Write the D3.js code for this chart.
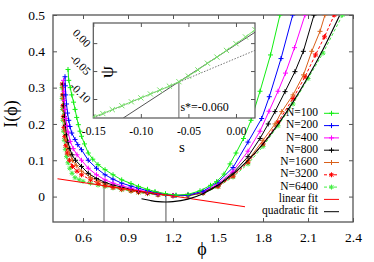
<!DOCTYPE html>
<html><head><meta charset="utf-8">
<script src="https://cdn.jsdelivr.net/npm/d3@7/dist/d3.min.js"></script>
<style>
body{margin:0;background:#fff}
svg{display:block}
text{font-family:"Liberation Serif","Times New Roman",serif;fill:#000}
</style>
</head><body>
<svg id="c" width="374" height="262"></svg>
<script>
// ---------------- DATA ----------------
const seriesNames = ["N=100","N=200","N=400","N=800","N=1600","N=3200","N=6400"];
const seriesColors = ["#11ee11","#0000ff","#ff00ff","#000000","#d9601a","#ff0000","#44ee44"];
const seriesDash = [null,null,null,null,null,"3,2","3,2"];
const seriesMarker = ["plus","plus","plus","plus","plus","star","star"];

const phi100 = [0.5,0.505,0.515,0.525,0.537,0.547,0.558,0.569,0.58,0.59,0.61,0.635,0.665,0.7,0.747,0.8,0.858,0.92,0.97,1.03,1.08,1.15,1.22,1.3,1.38,1.45,1.49,1.54,1.58,1.62,1.67,1.72,1.78,1.85,1.913];
const I100   = [0.35,0.32,0.3,0.28,0.26,0.24,0.218,0.198,0.18,0.166,0.145,0.12,0.103,0.088,0.074,0.06,0.046,0.036,0.028,0.02,0.014,0.008,0.004,0.006,0.016,0.031,0.041,0.062,0.09,0.12,0.16,0.21,0.29,0.39,0.5];

const phi200 = [0.48,0.482,0.485,0.49,0.497,0.505,0.513,0.525,0.547,0.565,0.59,0.635,0.69,0.747,0.8,0.858,0.92,0.97,1.03,1.08,1.15,1.22,1.3,1.4,1.5,1.6,1.7,1.791,1.842,1.92,1.998];
const I200   = [0.33,0.305,0.28,0.255,0.23,0.21,0.193,0.175,0.157,0.143,0.129,0.1,0.078,0.06,0.048,0.037,0.029,0.023,0.016,0.011,0.006,0.003,0.004,0.015,0.04,0.08,0.15,0.215,0.275,0.38,0.5];

const phi400 = [0.47,0.472,0.475,0.48,0.486,0.493,0.5,0.515,0.535,0.56,0.59,0.635,0.69,0.747,0.8,0.858,0.92,0.97,1.03,1.1,1.2,1.3,1.4,1.5,1.6,1.7,1.78,1.84,1.9,1.95,2.01,2.08];
const I400   = [0.32,0.29,0.265,0.24,0.215,0.195,0.178,0.152,0.132,0.115,0.1,0.078,0.06,0.046,0.037,0.03,0.023,0.018,0.013,0.008,0.003,0.004,0.013,0.035,0.07,0.125,0.18,0.235,0.29,0.34,0.41,0.5];

const phi800 = [0.468,0.47,0.473,0.477,0.483,0.49,0.5,0.512,0.527,0.55,0.59,0.635,0.69,0.747,0.8,0.858,0.92,0.97,1.03,1.1,1.2,1.3,1.4,1.5,1.6,1.7,1.78,1.835,1.88,1.947,2.013,2.069,2.14];
const I800   = [0.31,0.28,0.25,0.22,0.195,0.17,0.15,0.132,0.115,0.1,0.083,0.064,0.05,0.039,0.032,0.026,0.02,0.015,0.011,0.007,0.003,0.003,0.012,0.032,0.065,0.11,0.16,0.2,0.234,0.289,0.344,0.4,0.5];

const phi1600 = [0.465,0.467,0.47,0.474,0.48,0.488,0.498,0.512,0.53,0.555,0.59,0.65,0.7,0.747,0.8,0.858,0.92,0.97,1.03,1.1,1.2,1.3,1.4,1.5,1.6,1.7,1.8,1.88,1.925,2.0,2.07,2.125,2.18,2.213];
const I1600   = [0.3,0.27,0.24,0.21,0.18,0.155,0.135,0.117,0.1,0.086,0.07,0.053,0.043,0.035,0.028,0.022,0.017,0.013,0.01,0.006,0.003,0.003,0.011,0.03,0.06,0.1,0.155,0.2,0.234,0.28,0.335,0.4,0.455,0.5];

const phi3200 = [0.462,0.464,0.466,0.469,0.473,0.478,0.485,0.495,0.51,0.53,0.56,0.59,0.65,0.7,0.747,0.8,0.858,0.92,0.97,1.03,1.1,1.2,1.3,1.4,1.5,1.6,1.7,1.8,1.9,2.0,2.08,2.15,2.21,2.275];
const I3200   = [0.31,0.28,0.25,0.22,0.19,0.165,0.14,0.12,0.1,0.083,0.07,0.06,0.046,0.037,0.03,0.025,0.02,0.016,0.012,0.009,0.005,0.002,0.003,0.01,0.028,0.056,0.095,0.145,0.205,0.27,0.33,0.39,0.44,0.5];

const phi6400 = [0.46,0.461,0.463,0.466,0.47,0.475,0.482,0.49,0.5,0.512,0.527,0.547,0.575,0.6,0.65,0.7,0.747,0.8,0.858,0.92,0.97,1.03,1.1,1.2,1.3,1.4,1.5,1.6,1.7,1.8,1.9,2.0,2.1,2.2,2.33];
const I6400   = [0.3,0.27,0.24,0.21,0.18,0.155,0.13,0.11,0.093,0.078,0.064,0.052,0.046,0.042,0.037,0.032,0.028,0.024,0.019,0.015,0.011,0.008,0.005,0.002,0.002,0.009,0.027,0.054,0.09,0.138,0.195,0.255,0.325,0.395,0.5];

const seriesPhi = [phi100,phi200,phi400,phi800,phi1600,phi3200,phi6400];
const seriesI   = [I100,I200,I400,I800,I1600,I3200,I6400];

const linFitPhi = [0.43,1.68];
const linFitI   = [0.049,-0.028];
const quadFitPhi = [0.99,1.05,1.1,1.153,1.2,1.3,1.4,1.5,1.6,1.7,1.8,1.9,2.0,2.1,2.2,2.31];
const quadFitI   = [-0.006,-0.011,-0.014,-0.015,-0.014,-0.007,0.008,0.031,0.062,0.1,0.145,0.199,0.26,0.329,0.405,0.498];
const markPhi = [0.74,1.153];

const xTicks = [0.6,0.9,1.2,1.5,1.8,2.1,2.4];
const xTickLabels = ["0.6","0.9","1.2","1.5","1.8","2.1","2.4"];
const yTicks = [0,0.1,0.2,0.3,0.4,0.5];
const yTickLabels = ["0","0.1","0.2","0.3","0.4","0.5"];

// inset
const insetS   = [-0.15,-0.14,-0.13,-0.12,-0.11,-0.1,-0.09,-0.08,-0.07,-0.06,-0.05,-0.04,-0.03,-0.02,-0.01,0.0,0.01,0.02];
const insetPsi = [-0.132,-0.126,-0.119,-0.112,-0.105,-0.098,-0.091,-0.084,-0.077,-0.069,-0.059,-0.048,-0.036,-0.025,-0.013,-0.001,0.011,0.024];
const insetDotS = [-0.15,0.02];
const insetDotPsi = [-0.134,-0.013];
const insetSolidS = [-0.1185,0.02];
const insetSolidPsi = [-0.134,0.0195];
const sStar = -0.06;
const sStarLabel = "s*=-0.060";
const insetXTicks = [-0.15,-0.10,-0.05,0.00];
const insetXTickLabels = ["-0.15","-0.10","-0.05","0.00"];
const insetYTicks = [0.00,-0.05,-0.10];
const insetYTickLabels = ["0.00","-0.05","-0.10"];

// ---------------- DRAW ----------------
const svg = d3.select("#c");
const M = {l:53, r:353, t:15, b:222};
const x = d3.scaleLinear().domain([0.4,2.4]).range([M.l,M.r]);
const y = d3.scaleLinear().domain([-0.07,0.5]).range([M.b,M.t]);
const axisColor = "#555";

svg.append("defs").append("clipPath").attr("id","clipMain")
  .append("rect").attr("x",M.l).attr("y",M.t).attr("width",M.r-M.l).attr("height",M.b-M.t);

function styleAxis(g){
  g.select(".domain").remove();
  g.selectAll(".tick line").attr("stroke",axisColor).attr("stroke-width",1);
  g.selectAll(".tick text").style("font-family",'"Liberation Serif",serif').attr("fill","#000");
}
svg.append("g").attr("transform",`translate(0,${M.b})`)
  .call(d3.axisBottom(x).tickValues(xTicks).tickFormat((d,i)=>xTickLabels[i]).tickSizeInner(-4).tickSizeOuter(0).tickPadding(10))
  .call(styleAxis).selectAll("text").style("font-size","13.5px");
svg.append("g").attr("transform",`translate(0,${M.t})`)
  .call(d3.axisTop(x).tickValues(xTicks).tickFormat("").tickSizeInner(-4).tickSizeOuter(0)).call(styleAxis);
svg.append("g").attr("transform",`translate(${M.l},0)`)
  .call(d3.axisLeft(y).tickValues(yTicks).tickFormat((d,i)=>yTickLabels[i]).tickSizeInner(-4).tickSizeOuter(0).tickPadding(8))
  .call(styleAxis).selectAll("text").style("font-size","13.5px");
svg.append("g").attr("transform",`translate(${M.r},0)`)
  .call(d3.axisRight(y).tickValues(yTicks).tickFormat("").tickSizeInner(-4).tickSizeOuter(0)).call(styleAxis);

svg.append("rect").attr("x",M.l).attr("y",M.t).attr("width",M.r-M.l).attr("height",M.b-M.t)
  .attr("fill","none").attr("stroke",axisColor).attr("stroke-width",1.3);

svg.append("text").attr("transform","translate(13,114) rotate(-90)")
  .attr("text-anchor","middle").attr("dominant-baseline","middle").style("font-size","18px").text("I(ϕ)");
svg.append("text").attr("x",202).attr("y",255).attr("text-anchor","middle").style("font-size","18px").text("ϕ");

const plot = svg.append("g").attr("clip-path","url(#clipMain)");
const line = d3.line().x(d=>x(d[0])).y(d=>y(d[1]));

function markerPath(type,s){
  if(type==="plus") return `M${-s},0H${s}M0,${-s}V${s}`;
  if(type==="cross") return `M${-s},${-s}L${s},${s}M${-s},${s}L${s},${-s}`;
  const t = s*0.75;
  return `M${-s},0H${s}M0,${-s}V${s}M${-t},${-t}L${t},${t}M${-t},${t}L${t},${-t}`;
}

markPhi.forEach(p=>{
  const lv = linFitI[0] + (linFitI[1]-linFitI[0])*(p-linFitPhi[0])/(linFitPhi[1]-linFitPhi[0]);
  plot.append("line").attr("x1",x(p)).attr("x2",x(p)).attr("y1",y(lv)).attr("y2",y(-0.07))
    .attr("stroke","#555").attr("stroke-width",1);
});

for(let k=seriesNames.length-1;k>=0;k--){
  const pts = seriesPhi[k].map((p,i)=>[p,seriesI[k][i]]);
  plot.append("path").datum(pts).attr("d",line).attr("fill","none")
    .attr("stroke",seriesColors[k]).attr("stroke-width",1)
    .attr("stroke-dasharray",seriesDash[k]);
  plot.append("g").selectAll("path").data(pts).join("path")
    .attr("transform",d=>`translate(${x(d[0])},${y(d[1])})`)
    .attr("d",markerPath(seriesMarker[k],2.5)).attr("stroke",seriesColors[k]).attr("stroke-width",1).attr("fill","none");
}
plot.append("path").datum(linFitPhi.map((p,i)=>[p,linFitI[i]])).attr("d",line)
  .attr("fill","none").attr("stroke","#ff0000").attr("stroke-width",1.1);
plot.append("path").datum(quadFitPhi.map((p,i)=>[p,quadFitI[i]])).attr("d",line.curve(d3.curveMonotoneX))
  .attr("fill","none").attr("stroke","#000").attr("stroke-width",1.1);
line.curve(d3.curveLinear);

const legendLabels = seriesNames.concat(["linear fit","quadratic fit"]);
const legendColors = seriesColors.concat(["#ff0000","#000000"]);
const legendDash = seriesDash.concat([null,null]);
const legendMarker = seriesMarker.concat([null,null]);
const lg = svg.append("g");
legendLabels.forEach((lab,i)=>{
  const yy = 113.3 + i*12.3;
  lg.append("text").attr("x",318).attr("y",yy).attr("text-anchor","end")
    .attr("dominant-baseline","middle").style("font-size","11.5px").text(lab);
  lg.append("line").attr("x1",324).attr("x2",339).attr("y1",yy).attr("y2",yy)
    .attr("stroke",legendColors[i]).attr("stroke-width",1).attr("stroke-dasharray",legendDash[i]);
  if(legendMarker[i]) lg.append("path").attr("transform",`translate(331.5,${yy})`)
    .attr("d",markerPath(legendMarker[i],2.5)).attr("stroke",legendColors[i]).attr("fill","none");
});

// ---------------- INSET ----------------
const IM = {l:93.3, r:255, t:23, b:118};
const xi = d3.scaleLinear().domain([-0.15,0.02]).range([IM.l,IM.r]);
const yi = d3.scaleLinear().domain([-0.134,0.036]).range([IM.b,IM.t]);
const ins = svg.append("g");
ins.append("defs").append("clipPath").attr("id","clipIns")
  .append("rect").attr("x",IM.l).attr("y",IM.t).attr("width",IM.r-IM.l).attr("height",IM.b-IM.t);
ins.append("rect").attr("x",IM.l).attr("y",IM.t).attr("width",IM.r-IM.l).attr("height",IM.b-IM.t)
  .attr("fill","#fff").attr("stroke","none");

ins.append("g").attr("transform",`translate(0,${IM.b})`)
  .call(d3.axisBottom(xi).tickValues(insetXTicks).tickFormat((d,i)=>insetXTickLabels[i]).tickSizeInner(-4).tickSizeOuter(0).tickPadding(9))
  .call(styleAxis).selectAll("text").style("font-size","11.5px");
ins.append("g").attr("transform",`translate(0,${IM.t})`)
  .call(d3.axisTop(xi).tickValues(insetXTicks).tickFormat("").tickSizeInner(-4).tickSizeOuter(0)).call(styleAxis);
ins.append("g").attr("transform",`translate(${IM.l},0)`)
  .call(d3.axisLeft(yi).tickValues(insetYTicks).tickFormat("").tickSizeInner(-4).tickSizeOuter(0)).call(styleAxis);
ins.append("g").attr("transform",`translate(${IM.r},0)`)
  .call(d3.axisRight(yi).tickValues(insetYTicks).tickFormat("").tickSizeInner(-4).tickSizeOuter(0)).call(styleAxis);
insetYTicks.forEach((t,i)=>{
  ins.append("text").attr("transform",`translate(88,${yi(t)+3}) rotate(45)`)
    .attr("text-anchor","end").attr("dominant-baseline","middle").style("font-size","11.5px").text(insetYTickLabels[i]);
});
ins.append("rect").attr("x",IM.l).attr("y",IM.t).attr("width",IM.r-IM.l).attr("height",IM.b-IM.t)
  .attr("fill","none").attr("stroke",axisColor).attr("stroke-width",1.2);

const ip = ins.append("g").attr("clip-path","url(#clipIns)");
const il = d3.line().x(d=>xi(d[0])).y(d=>yi(d[1]));
ip.append("path").datum(insetDotS.map((s,i)=>[s,insetDotPsi[i]])).attr("d",il)
  .attr("fill","none").attr("stroke","#666").attr("stroke-width",0.9).attr("stroke-dasharray","1.5,1.5");
ip.append("path").datum(insetSolidS.map((s,i)=>[s,insetSolidPsi[i]])).attr("d",il)
  .attr("fill","none").attr("stroke","#555").attr("stroke-width",1);
const sStarPsi = insetPsi[insetS.findIndex(s=>Math.abs(s-sStar)<1e-9)];
ip.append("line").attr("x1",xi(sStar)).attr("x2",xi(sStar)).attr("y1",yi(sStarPsi)).attr("y2",IM.b)
  .attr("stroke","#666").attr("stroke-width",1);
const gp = insetS.map((s,i)=>[s,insetPsi[i]]);
ip.append("path").datum(gp).attr("d",il).attr("fill","none").attr("stroke","#77e06a").attr("stroke-width",1);
ip.append("g").selectAll("path").data(gp).join("path")
  .attr("transform",d=>`translate(${xi(d[0])},${yi(d[1])})`)
  .attr("d",markerPath("cross",2.6)).attr("stroke","#77e06a").attr("stroke-width",1).attr("fill","none");

ins.append("text").attr("x",xi(sStar)+1.5).attr("y",111).style("font-size","12px").text(sStarLabel);
ins.append("text").attr("transform","translate(109,72) rotate(-90)").attr("text-anchor","middle")
  .attr("dominant-baseline","middle").style("font-size","19px").text("ψ");
ins.append("text").attr("x",182).attr("y",152).attr("text-anchor","middle").style("font-size","15px").text("s");
</script>
</body></html>
